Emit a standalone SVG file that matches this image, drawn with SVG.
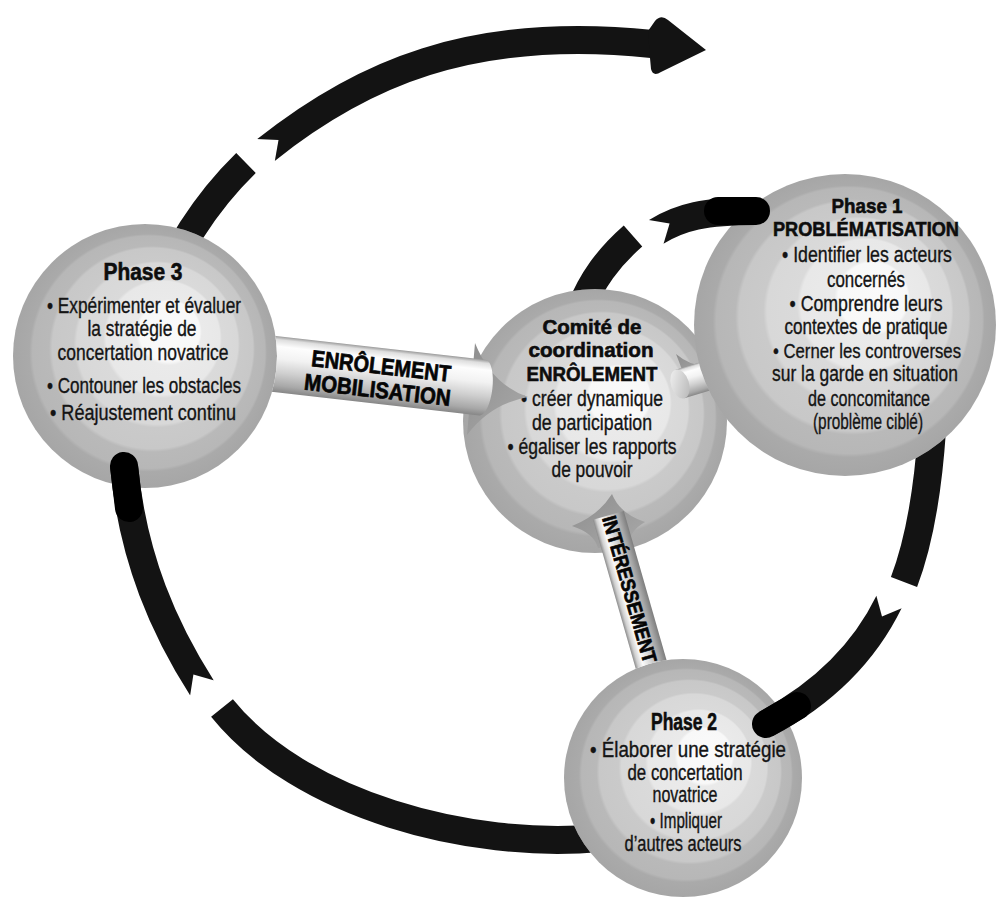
<svg xmlns="http://www.w3.org/2000/svg" width="1005" height="899" viewBox="0 0 1005 899">
<defs>
<style>
.t{font-family:"Liberation Sans",Arial,sans-serif;font-size:21.5px;fill:#141414;stroke:#141414;stroke-width:0.35;text-anchor:middle}
.h{font-weight:bold;font-size:23px;fill:#0d0d0d;stroke:#0d0d0d;stroke-width:0.6}
.hs{font-size:20.5px}
.ts{font-size:20.5px}
.bt{font-family:"Liberation Sans",Arial,sans-serif;font-weight:bold;fill:#050505;stroke:#050505;stroke-width:0.7;text-anchor:middle}
.sp{fill:url(#sph)}
.arr{fill:none;stroke:#131313;stroke-width:28}
.cap{fill:none;stroke:#000;stroke-width:28;stroke-linecap:round}
.head{fill:#131313}
.fun{fill:url(#fung)}
</style>
<radialGradient id="sph" cx="0.5" cy="0.5" r="0.5" fx="0.62" fy="0.38">
<stop offset="0" stop-color="#fafafa"/>
<stop offset="0.23" stop-color="#f8f8f8"/>
<stop offset="0.25" stop-color="#eaeaea"/>
<stop offset="0.43" stop-color="#e8e8e8"/>
<stop offset="0.45" stop-color="#dadada"/>
<stop offset="0.61" stop-color="#d8d8d8"/>
<stop offset="0.63" stop-color="#cacaca"/>
<stop offset="0.76" stop-color="#c8c8c8"/>
<stop offset="0.78" stop-color="#b9b9b9"/>
<stop offset="0.88" stop-color="#b7b7b7"/>
<stop offset="0.90" stop-color="#aaaaaa"/>
<stop offset="1" stop-color="#a6a6a6"/>
</radialGradient>
<linearGradient id="cyl" x1="0" y1="0" x2="0" y2="1">
<stop offset="0" stop-color="#9a9a9a"/>
<stop offset="0.06" stop-color="#dedede"/>
<stop offset="0.18" stop-color="#fdfdfd"/>
<stop offset="0.4" stop-color="#f2f2f2"/>
<stop offset="0.65" stop-color="#cfcfcf"/>
<stop offset="0.88" stop-color="#a8a8a8"/>
<stop offset="1" stop-color="#878787"/>
</linearGradient>
<linearGradient id="cyl2" x1="0" y1="0" x2="0" y2="1">
<stop offset="0" stop-color="#7d7d7d"/>
<stop offset="0.2" stop-color="#a8a8a8"/>
<stop offset="0.5" stop-color="#d8d8d8"/>
<stop offset="0.75" stop-color="#fafafa"/>
<stop offset="0.9" stop-color="#d0d0d0"/>
<stop offset="1" stop-color="#8c8c8c"/>
</linearGradient>
<linearGradient id="capg" x1="0" y1="0" x2="1" y2="1">
<stop offset="0" stop-color="#f4f4f4"/>
<stop offset="1" stop-color="#b4b4b4"/>
</linearGradient>
<linearGradient id="fung" x1="0" y1="0" x2="1" y2="1">
<stop offset="0" stop-color="#8e8e8e"/>
<stop offset="1" stop-color="#a9a9a9"/>
</linearGradient>
<clipPath id="noP3"><path clip-rule="evenodd" d="M0,0H1005V899H0Z M13,356a132,132 0 1,0 264,0a132,132 0 1,0 -264,0Z"/></clipPath>
<clipPath id="noCo"><path clip-rule="evenodd" d="M0,0H1005V899H0Z M463,421a132,132 0 1,0 264,0a132,132 0 1,0 -264,0Z"/></clipPath>
<clipPath id="noP1"><path clip-rule="evenodd" d="M0,0H1005V899H0Z M694,325a151,151 0 1,0 302,0a151,151 0 1,0 -302,0Z"/></clipPath>
<clipPath id="noP2"><path clip-rule="evenodd" d="M0,0H1005V899H0Z M564,778a119,119 0 1,0 238,0a119,119 0 1,0 -238,0Z"/></clipPath>
<mask id="notch" maskUnits="userSpaceOnUse" x="0" y="0" width="1005" height="899">
<rect width="1005" height="899" fill="#fff"/>
<polygon points="278.5,140 255.9,138.9 274.6,162.3" fill="#000"/>
<polygon points="669.6,223.5 647.2,219.8 663.1,245.2" fill="#000"/>
<polygon points="882,616.4 902.9,607.7 876,594.5" fill="#000"/>
<polygon points="193.4,674.5 189.9,696.9 215.2,680.8" fill="#000"/>
</mask>
</defs>
<rect width="1005" height="899" fill="#fff"/>

<g id="comite">
<circle class="sp" cx="595" cy="421" r="132"/>
<text class="t h hs" x="592" y="334" textLength="99" lengthAdjust="spacingAndGlyphs">Comité de</text>
<text class="t h hs" x="591" y="357" textLength="125" lengthAdjust="spacingAndGlyphs">coordination</text>
<text class="t h hs" x="592" y="381" textLength="131" lengthAdjust="spacingAndGlyphs">ENRÔLEMENT</text>
<text class="t" x="592" y="406" textLength="142" lengthAdjust="spacingAndGlyphs">• créer dynamique</text>
<text class="t" x="592" y="430" textLength="120" lengthAdjust="spacingAndGlyphs">de participation</text>
<text class="t" x="592" y="454" textLength="169" lengthAdjust="spacingAndGlyphs">• égaliser les rapports</text>
<text class="t" x="592" y="477" textLength="81" lengthAdjust="spacingAndGlyphs">de pouvoir</text>
</g>

<g id="phase1">
<circle class="sp" cx="845" cy="325" r="151"/>
<text class="t h hs" x="867" y="213" textLength="71" lengthAdjust="spacingAndGlyphs">Phase 1</text>
<text class="t h hs" x="866" y="236" textLength="186" lengthAdjust="spacingAndGlyphs">PROBLÉMATISATION</text>
<text class="t" x="867" y="262" textLength="170" lengthAdjust="spacingAndGlyphs">• Identifier les acteurs</text>
<text class="t" x="866" y="287" textLength="78" lengthAdjust="spacingAndGlyphs">concernés</text>
<text class="t" x="866" y="311" textLength="153" lengthAdjust="spacingAndGlyphs">• Comprendre leurs</text>
<text class="t" x="866" y="334" textLength="163" lengthAdjust="spacingAndGlyphs">contextes de pratique</text>
<text class="t ts" x="867" y="358" textLength="188" lengthAdjust="spacingAndGlyphs">• Cerner les controverses</text>
<text class="t" x="865" y="381" textLength="186" lengthAdjust="spacingAndGlyphs">sur la garde en situation</text>
<text class="t" x="869" y="406" textLength="122" lengthAdjust="spacingAndGlyphs">de concomitance</text>
<text class="t" x="868" y="429" textLength="110" lengthAdjust="spacingAndGlyphs">(problème ciblé)</text>
</g>

<g id="phase2">
<circle class="sp" cx="683" cy="778" r="119"/>
<text class="t h" x="684" y="730" textLength="66" lengthAdjust="spacingAndGlyphs">Phase 2</text>
<text class="t" x="688" y="757" textLength="196" lengthAdjust="spacingAndGlyphs">• Élaborer une stratégie</text>
<text class="t" x="685" y="780" textLength="115" lengthAdjust="spacingAndGlyphs">de concertation</text>
<text class="t" x="685" y="802" textLength="65" lengthAdjust="spacingAndGlyphs">novatrice</text>
<text class="t" x="686" y="828" textLength="72" lengthAdjust="spacingAndGlyphs">• Impliquer</text>
<text class="t" x="683" y="851" textLength="117" lengthAdjust="spacingAndGlyphs">d’autres acteurs</text>
</g>

<g id="phase3">
<circle class="sp" cx="145" cy="356" r="132"/>
<text class="t h" x="143" y="280" textLength="79" lengthAdjust="spacingAndGlyphs">Phase 3</text>
<text class="t" x="144" y="313" textLength="194" lengthAdjust="spacingAndGlyphs">• Expérimenter et évaluer</text>
<text class="t" x="142" y="336" textLength="109" lengthAdjust="spacingAndGlyphs">la stratégie de</text>
<text class="t" x="143" y="360" textLength="171" lengthAdjust="spacingAndGlyphs">concertation novatrice</text>
<text class="t" x="144" y="393" textLength="194" lengthAdjust="spacingAndGlyphs">• Contouner les obstacles</text>
<text class="t" x="143" y="420" textLength="186" lengthAdjust="spacingAndGlyphs">• Réajustement continu</text>
</g>

<g id="connectors">
<g id="bar-enrolement" clip-path="url(#noP3)">
<path class="fun" d="M475,343 Q492,385 528,397 Q490,404 467,435 Z"/>
<g transform="translate(240,360) rotate(6.5)">
<path d="M0,-28 H244 A10,28 0 0,1 244,28 H0 Z" fill="url(#cyl)"/>
<text class="bt" x="141" y="-2" font-size="23" textLength="140" lengthAdjust="spacingAndGlyphs">ENRÔLEMENT</text>
<text class="bt" x="140" y="22" font-size="23" textLength="147" lengthAdjust="spacingAndGlyphs">MOBILISATION</text>
</g>
</g>
<g id="bar-interessement" clip-path="url(#noP2)">
<path class="fun" d="M572,526 Q598,516 612,494 Q620,514 645,522 Q628,532 630,545 L598,548 Q594,533 572,526 Z"/>
<g transform="translate(604,500) rotate(74)">
<rect x="16" y="-16" width="200" height="32" fill="url(#cyl2)"/>
<text class="bt" x="93" y="7" font-size="20" textLength="152" lengthAdjust="spacingAndGlyphs">INTÉRESSEMENT</text>
</g>
</g>
<g id="bar-stub" clip-path="url(#noP1)">
<path class="fun" d="M676,354 Q690,366 707,366 L686,380 Z"/>
<g transform="translate(680,384) rotate(-17)">
<path d="M0,-15 H70 V15 H0 Z" fill="url(#cyl)"/>
<ellipse cx="0" cy="0" rx="9" ry="15" fill="url(#capg)"/>
</g>
</g>

<g id="arrow-p3-out">
<path class="arr" clip-path="url(#noP3)" d="M158,300 C172,255 205,203 246,163"/>
<path class="arr" mask="url(#notch)" d="M266,150 C360,75 470,25 652,44"/>
<path class="head" d="M648,31 L655,21 Q661,14 668,20 L706,50 L661,72 Q653,77 651,69 L650,58 Z"/>
</g>
<g id="arrow-comite-p1">
<path class="arr" clip-path="url(#noCo)" d="M580,310 C592,280 608,258 633,236"/>
<path class="arr" mask="url(#notch)" d="M656,232 C680,217 705,211 756,211"/>
<path class="cap" d="M718,211 L756,211"/>
</g>
<g id="arrow-p1-p2">
<path class="arr" clip-path="url(#noP1)" d="M932,430 C928,490 920,540 904,582"/>
<path class="arr" mask="url(#notch)" d="M889,602 C868,645 830,690 766,724"/>
<path class="cap" d="M797,706 L766,724"/>
</g>
<g id="arrow-p2-p3">
<path class="arr" clip-path="url(#noP2)" d="M600,838 C470,850 300,805 222,708"/>
<path class="arr" mask="url(#notch)" d="M202,688 C165,630 133,560 124,466"/>
<path class="cap" d="M129,508 L124,466"/>
</g>
</g>
</svg>
